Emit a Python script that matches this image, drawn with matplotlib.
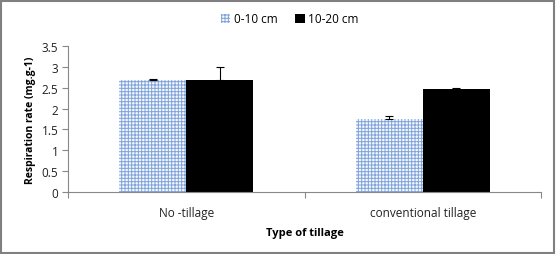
import matplotlib
matplotlib.use("Agg")
import matplotlib.pyplot as plt
from matplotlib.patches import Rectangle

categories = ["No -tillage", "conventional tillage"]
series_names = ["0-10 cm", "10-20 cm"]
vals_0_10 = [2.68, 1.74]
err_0_10 = [0.03, 0.09]
vals_10_20 = [2.68, 2.46]
err_10_20 = [0.32, 0.03]

plt.rcParams['font.family'] = ['Open Sans', 'DejaVu Sans']
plt.rcParams['hatch.color'] = '#7fa3da'
plt.rcParams['hatch.linewidth'] = 0.7

fig = plt.figure(figsize=(5.56, 2.55), dpi=100)
ax = fig.add_axes([68/556, 1-193/255, (541-68)/556, (193-47)/255])

x = [0, 1]
w = 0.283
off = 0.142
ax.bar([i - off for i in x], vals_0_10, width=w, color='#f4f7fc', edgecolor='#7fa3da',
       linewidth=0, hatch='+++++', label=series_names[0],
       yerr=[[0, 0], err_0_10], error_kw=dict(ecolor='black', elinewidth=0.8, capsize=3, capthick=0.8))
ax.bar([i + off for i in x], vals_10_20, width=w, color='black', linewidth=0,
       label=series_names[1],
       yerr=[[0, 0], err_10_20], error_kw=dict(ecolor='black', elinewidth=0.8, capsize=3, capthick=0.8))

ax.set_xlim(-0.5, 1.5)
ax.set_ylim(0, 3.5)
ax.set_yticks([0, 0.5, 1, 1.5, 2, 2.5, 3, 3.5])
ax.set_yticklabels(['0', '0.5', '1', '1.5', '2', '2.5', '3', '3.5'])
ax.set_xticks([-0.5, 0.5, 1.5])
ax.set_xticklabels([])
ax.set_xticks(x, minor=True)
ax.set_xticklabels(categories, minor=True)
ax.tick_params(axis='x', which='minor', length=0, pad=10, labelsize=8.5, labelcolor='#222222')
ax.tick_params(axis='x', which='major', length=4, direction='out', color='#888888')
ax.tick_params(axis='y', length=4, direction='out', color='#888888', labelsize=8.5, labelcolor='#222222', pad=3)
for s in ['top', 'right']:
    ax.spines[s].set_visible(False)
for s in ['left', 'bottom']:
    ax.spines[s].set_color('#888888')
    ax.spines[s].set_linewidth(0.8)

ax.set_ylabel('Respiration rate (mg.g-1)', fontsize=7.5, fontweight='bold', labelpad=4)
ax.set_xlabel('Type of tillage', fontsize=8, fontweight='bold', labelpad=6)

leg = ax.legend(loc='center', bbox_to_anchor=(290/556, 1-20/255), bbox_transform=fig.transFigure,
                ncol=2, frameon=False, fontsize=8.5, handlelength=0.8, handleheight=0.8,
                handletextpad=0.3, columnspacing=1.5)

fig.patches.append(Rectangle((0.002, 0.004), 0.994, 0.99, transform=fig.transFigure,
                             fill=False, edgecolor='#808080', linewidth=1.5))

fig.savefig('out.png', dpi=100)
